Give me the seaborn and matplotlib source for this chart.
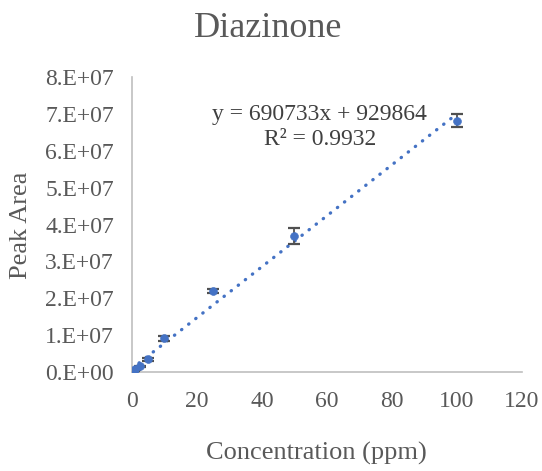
import numpy as np
import pandas as pd
import matplotlib
matplotlib.use("Agg")
import matplotlib.pyplot as plt
import seaborn as sns

# Data
concentration = [0.5, 1, 2.5, 5, 10, 25, 50, 100]
peak_area = [0.3e6, 0.7e6, 1.5e6, 3.4e6, 9.1e6, 22.0e6, 36.9e6, 68.2e6]
peak_err = [0.1e6, 0.1e6, 0.2e6, 0.5e6, 0.6e6, 0.5e6, 2.2e6, 1.8e6]
slope = 690733
intercept = 929864
r2 = 0.9932
xticks = [0, 20, 40, 60, 80, 100, 120]
yticks = [0, 1e7, 2e7, 3e7, 4e7, 5e7, 6e7, 7e7, 8e7]
ytick_labels = ["0.E+00", "1.E+07", "2.E+07", "3.E+07", "4.E+07", "5.E+07", "6.E+07", "7.E+07", "8.E+07"]

sns.set_style("white")
plt.rcParams['font.family'] = ['Liberation Serif', 'DejaVu Serif']

blue = "#4472C4"
grey_text = "#595959"

fig = plt.figure(figsize=(5.42, 4.71), dpi=100)
ax = fig.add_axes([0.2435, 0.2102, 0.7195, 0.6263])

df = pd.DataFrame({"x": concentration, "y": peak_area})
trend = pd.DataFrame({"x": [0, 100]})
trend["y"] = slope * trend["x"] + intercept

sns.lineplot(data=trend, x="x", y="y", ax=ax, color=blue, linewidth=2.4,
             linestyle=(0, (0.1, 2.6)))
ax.lines[-1].set_dash_capstyle("round")
ax.errorbar(concentration, peak_area, yerr=peak_err, fmt="none", ecolor="#505050",
            elinewidth=1.3, capsize=4.3, capthick=1.6, zorder=3)
sns.scatterplot(data=df, x="x", y="y", ax=ax, color=blue, s=32, edgecolor=blue, zorder=4)

ax.set_xlim(0, 120)
ax.set_ylim(0, 8e7)
ax.set_xticks(xticks)
ax.set_xticklabels([str(t) for t in xticks])
ax.set_yticks(yticks)
ax.set_yticklabels(ytick_labels)
ax.tick_params(axis="both", labelsize=17, colors=grey_text, length=0)
ax.tick_params(axis="y", pad=13)
ax.tick_params(axis="x", pad=14)

for s in ["top", "right"]:
    ax.spines[s].set_visible(False)
for s in ["left", "bottom"]:
    ax.spines[s].set_color("#BFBFBF")
    ax.spines[s].set_linewidth(1.2)

ax.set_xlabel("")
ax.set_ylabel("")
fig.text(0.583, 0.038, "Concentration (ppm)", ha="center", va="center", fontsize=19, color=grey_text)
fig.text(0.038, 0.522, "Peak Area", ha="center", va="center", rotation=90, fontsize=19, color=grey_text)

fig.text(0.494, 0.940, "Diazinone", ha="center", va="center", fontsize=26, color=grey_text)

fig.text(0.590, 0.756, f"y = {slope}x + {intercept}", ha="center", va="center",
         fontsize=17, color="#404040")
fig.text(0.590, 0.703, f"R² = {r2}", ha="center", va="center", fontsize=17, color="#404040")

fig.savefig("out.png", dpi=100)
